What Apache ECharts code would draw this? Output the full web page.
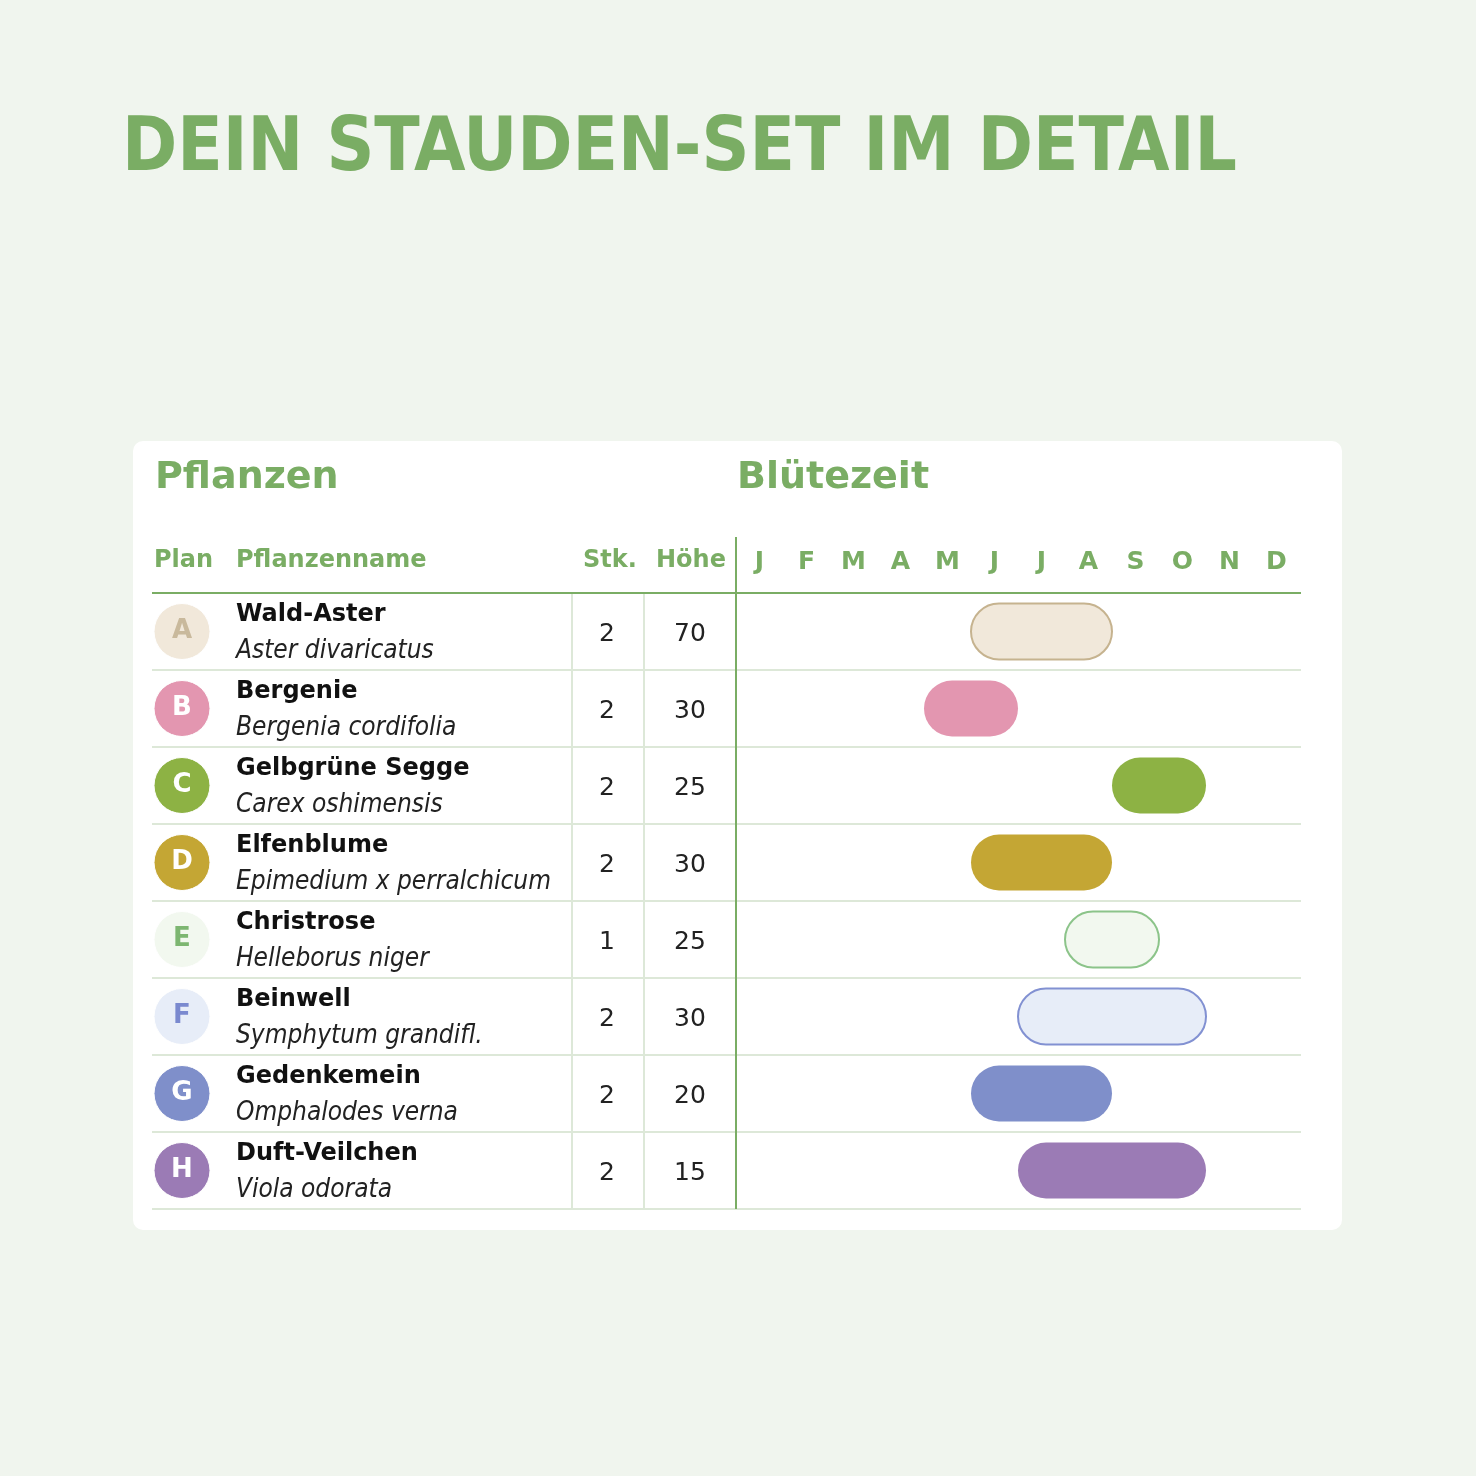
<!DOCTYPE html><html><head><meta charset="utf-8">
<script src="https://cdn.jsdelivr.net/npm/echarts@6/dist/echarts.min.js"></script>
<style>html,body{margin:0;background:#f0f5ee}#c{width:1476px;height:1476px}</style></head><body><div id="c"></div>
<script>
const months=['J','F','M','A','M','J','J','A','S','O','N','D'];
const plans=['A','B','C','D','E','F','G','H'];
const names=['Wald-Aster','Bergenie','Gelbgrüne Segge','Elfenblume','Christrose','Beinwell','Gedenkemein','Duft-Veilchen'];
const latin=['Aster divaricatus','Bergenia cordifolia','Carex oshimensis','Epimedium x perralchicum','Helleborus niger','Symphytum grandifl.','Omphalodes verna','Viola odorata'];
const stk=[2,2,2,2,1,2,2,2];
const hoehe=[70,30,25,30,25,30,20,15];
const startMonth=[5,4,8,5,7,6,5,6];
const endMonth=[7,5,9,7,8,9,7,9];
const fills=['#f1e8da','#e396b0','#8db244','#c4a634','#f2f8ef','#e7edf8','#7f8fca','#9b7bb5'];
const strokes=['#c6b38f',null,null,null,'#8cc48a','#8291d2',null,null];
const letterCol=['#c9b99c','#fff','#fff','#fff','#7db671','#7a89cf','#fff','#fff'];
const G='#7aad64';
const chart=echarts.init(document.getElementById('c'));
const rows=names.map((n,i)=>[i]);
chart.setOption({
 animation:false,
 graphic:[
  {type:'rect',shape:{x:133,y:441,width:1209,height:789,r:10},style:{fill:'#fff'},z:-10},
  {type:'text',left:122,top:114,style:{text:'DEIN STAUDEN-SET IM DETAIL',fill:G,font:'bold 74px "DejaVu Sans Condensed"'}},
  {type:'text',left:155,top:459,style:{text:'Pflanzen',fill:G,font:'bold 38px "DejaVu Sans"'}},
  {type:'text',left:737,top:459,style:{text:'Blütezeit',fill:G,font:'bold 38px "DejaVu Sans"'}},
  {type:'text',left:154,top:549,style:{text:'Plan',fill:G,font:'bold 24px "DejaVu Sans"'}},
  {type:'text',left:236,top:549,style:{text:'Pflanzenname',fill:G,font:'bold 24px "DejaVu Sans"'}},
  {type:'text',left:583,top:549,style:{text:'Stk.',fill:G,font:'bold 24px "DejaVu Sans"'}},
  {type:'text',left:656,top:549,style:{text:'Höhe',fill:G,font:'bold 24px "DejaVu Sans"'}},
  {type:'line',shape:{x1:152,y1:593,x2:1301,y2:593},style:{stroke:G,lineWidth:2}},
  {type:'line',shape:{x1:736,y1:537,x2:736,y2:1209},style:{stroke:G,lineWidth:2},z:10},
  {type:'line',shape:{x1:572,y1:594,x2:572,y2:1209},style:{stroke:'#dde8d8',lineWidth:2}},
  {type:'line',shape:{x1:644,y1:594,x2:644,y2:1209},style:{stroke:'#dde8d8',lineWidth:2}}
 ],
 grid:{left:736,top:593,width:564,height:616},
 xAxis:{type:'category',data:months,position:'top',boundaryGap:true,axisLine:{show:false},axisTick:{show:false},
  axisLabel:{margin:31,verticalAlign:'middle',color:G,fontSize:25,fontWeight:'bold',fontFamily:'DejaVu Sans'}},
 yAxis:{type:'category',data:names,inverse:true,show:false},
 series:[
  {type:'custom',data:rows,clip:false,renderItem:(p,api)=>{
    const i=api.value(0);const c=api.coord([0,i]);const cy=c[1];const bh=api.size([0,1])[1];
    return {type:'group',children:[
     {type:'line',shape:{x1:152,y1:cy+bh/2,x2:1301,y2:cy+bh/2},style:{stroke:'#dde8d8',lineWidth:2}},
     {type:'circle',shape:{cx:182,cy:cy,r:28},style:{fill:fills[i],stroke:'#fff'}},
     {type:'text',style:{text:plans[i],x:182,y:cy,align:'center',verticalAlign:'middle',fill:letterCol[i],font:'bold 26px "DejaVu Sans"'}},
     {type:'text',style:{text:names[i],x:236,y:cy-17,verticalAlign:'middle',fill:'#111',font:'bold 24px "DejaVu Sans"'}},
     {type:'text',style:{text:latin[i],x:236,y:cy+20,verticalAlign:'middle',fill:'#222',font:'italic 26px "DejaVu Sans Condensed"'}},
     {type:'text',style:{text:String(stk[i]),x:607,y:cy+3,align:'center',verticalAlign:'middle',fill:'#222',font:'25px "DejaVu Sans"'}},
     {type:'text',style:{text:String(hoehe[i]),x:690,y:cy+3,align:'center',verticalAlign:'middle',fill:'#222',font:'25px "DejaVu Sans"'}}
    ]};
  }},
  {type:'custom',data:rows,renderItem:(p,api)=>{
    const i=api.value(0);const bw=api.size([1,0])[0];
    const a=api.coord([startMonth[i],i]),b=api.coord([endMonth[i],i]);
    const x=a[0]-bw/2,w=b[0]+bw/2-x,h=56;
    return {type:'rect',shape:{x:x,y:a[1]-h/2,width:w,height:h,r:h/2},
      style:{fill:fills[i],stroke:strokes[i]||null,lineWidth:strokes[i]?2:0}};
  }}
 ]
});
</script></body></html>
